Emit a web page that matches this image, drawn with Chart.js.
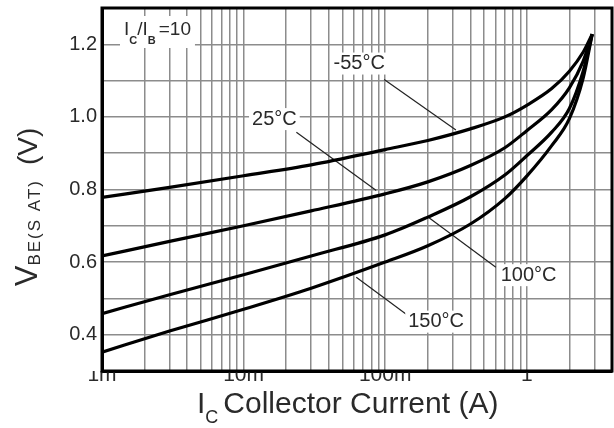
<!DOCTYPE html>
<html>
<head>
<meta charset="utf-8">
<script src="https://cdn.jsdelivr.net/npm/chart.js@4.4.0/dist/chart.umd.min.js"></script>
<style>
  html, body { margin: 0; padding: 0; background: #fff; }
  #wrap { width: 614px; height: 428px; }
</style>
</head>
<body>
<div id="wrap"><canvas id="vbeChart" width="614" height="428"></canvas></div>
<script>
// collector current (A) and VBE(SAT) (V)
const currents = [0.001, 0.003, 0.01, 0.03, 0.1, 0.2, 0.4, 0.7, 1, 1.5, 2, 2.5, 2.9];
const vbeM55 = [0.778, 0.806, 0.838, 0.868, 0.910, 0.935, 0.967, 1.000, 1.032, 1.078, 1.126, 1.178, 1.228];
const vbe25  = [0.617, 0.657, 0.700, 0.741, 0.788, 0.821, 0.866, 0.915, 0.962, 1.020, 1.080, 1.153, 1.228];
const vbe100 = [0.458, 0.510, 0.565, 0.617, 0.675, 0.724, 0.780, 0.840, 0.893, 0.958, 1.023, 1.125, 1.228];
const vbe150 = [0.352, 0.410, 0.470, 0.528, 0.600, 0.645, 0.705, 0.775, 0.837, 0.921, 0.995, 1.106, 1.228];

// x axis: decades and the minor lines in each decade
const xMajor = [0.001, 0.01, 0.1, 1];
const xMajorLabels = ['1m', '10m', '100m', '1'];
const xMinorSteps = [2, 3, 4, 5, 6, 7, 8, 9];

// temperature labels with their leader lines (in data units)
const tempLabels = ['-55°C', '25°C', '100°C', '150°C'];
const labelAt    = [[0.0656, 1.147], [0.0165, 0.994], [1.03, 0.564], [0.229, 0.436]];
const leaderFrom = [[0.0984, 1.103], [0.0236, 0.958], [0.204, 0.722], [0.0625, 0.558]];
const leaderTo   = [[0.316, 0.964], [0.0865, 0.797], [0.605, 0.586], [0.148, 0.45]];

const FONT = '"Liberation Sans", Arial, sans-serif';
const TXT = '#2a2a2a';

function toPoints(vals) {
    return currents.map((c, i) => ({ x: c, y: vals[i] }));
}

function curve(vals) {
    return {
        data: toPoints(vals),
        borderColor: '#000',
        borderWidth: 3.2,
        pointRadius: 0,
        cubicInterpolationMode: 'monotone',
        fill: false
    };
}

// text pieces with subscripts, drawn one after another
function drawPieces(ctx, pieces, x, y) {
    pieces.forEach(p => {
        ctx.font = p.font;
        ctx.letterSpacing = p.ls || '0px';
        ctx.fillText(p.t, x, y + (p.dy || 0));
        x += ctx.measureText(p.t).width + (p.gap || 0);
    });
    ctx.letterSpacing = '0px';
    return x;
}

function piecesWidth(ctx, pieces) {
    let w = 0;
    pieces.forEach(p => {
        ctx.font = p.font;
        ctx.letterSpacing = p.ls || '0px';
        w += ctx.measureText(p.t).width + (p.gap || 0);
    });
    ctx.letterSpacing = '0px';
    return w;
}

const extras = {
    id: 'extras',
    beforeDatasetsDraw(chart) {
        const ctx = chart.ctx;
        const xs = chart.scales.x, ys = chart.scales.y;
        const a = chart.chartArea;
        ctx.save();
        // leader lines
        ctx.strokeStyle = '#222';
        ctx.lineWidth = 1.2;
        leaderFrom.forEach((f, i) => {
            ctx.beginPath();
            ctx.moveTo(xs.getPixelForValue(f[0]), ys.getPixelForValue(f[1]));
            ctx.lineTo(xs.getPixelForValue(leaderTo[i][0]), ys.getPixelForValue(leaderTo[i][1]));
            ctx.stroke();
        });
        // temperature labels on white boxes
        ctx.font = '20px ' + FONT;
        ctx.textBaseline = 'middle';
        ctx.textAlign = 'center';
        tempLabels.forEach((t, i) => {
            const px = xs.getPixelForValue(labelAt[i][0]);
            const py = ys.getPixelForValue(labelAt[i][1]);
            const w = ctx.measureText(t).width;
            ctx.fillStyle = '#fff';
            ctx.fillRect(px - w / 2 - 3, py - 11, w + 6, 22);
            ctx.fillStyle = TXT;
            ctx.fillText(t, px, py);
        });
        // IC/IB = 10
        ctx.textAlign = 'left';
        ctx.textBaseline = 'alphabetic';
        const ratio = [
            { t: 'I', font: '19px ' + FONT },
            { t: 'C', font: 'bold 11px ' + FONT, dy: 9 },
            { t: '/I', font: '19px ' + FONT },
            { t: 'B', font: 'bold 11px ' + FONT, dy: 9, gap: 3 },
            { t: '=10', font: '19px ' + FONT }
        ];
        const rx = a.left + 22, ry = a.top + 27;
        ctx.fillStyle = '#fff';
        ctx.fillRect(rx - 4, ry - 19, piecesWidth(ctx, ratio) + 8, 32);
        ctx.fillStyle = TXT;
        drawPieces(ctx, ratio, rx, ry);
        ctx.restore();
    },
    afterDraw(chart) {
        const ctx = chart.ctx;
        const a = chart.chartArea;
        ctx.save();
        // frame
        ctx.strokeStyle = '#000';
        ctx.lineWidth = 3;
        ctx.strokeRect(a.left, a.top, a.right - a.left, a.bottom - a.top);

        ctx.fillStyle = TXT;
        ctx.textAlign = 'left';
        ctx.textBaseline = 'alphabetic';
        // x title
        const xt = [
            { t: 'I', font: '30px ' + FONT },
            { t: 'C', font: '18px ' + FONT, dy: 10, gap: 5 },
            { t: 'Collector Current (A)', font: '30px ' + FONT }
        ];
        drawPieces(ctx, xt, 197, 413);

        // y title, rotated
        const yt = [
            { t: 'V', font: '31px ' + FONT },
            { t: 'BE(S AT)', font: '17px ' + FONT, ls: '2px', dy: 3, gap: 14 },
            { t: '(V)', font: '28px ' + FONT }
        ];
        const yw = piecesWidth(ctx, yt);
        ctx.translate(37, 207);
        ctx.rotate(-Math.PI / 2);
        drawPieces(ctx, yt, -yw / 2, 0);
        ctx.restore();
    }
};

const config = {
    type: 'line',
    data: {
        datasets: [curve(vbeM55), curve(vbe25), curve(vbe100), curve(vbe150)]
    },
    options: {
        responsive: false,
        animation: false,
        layout: { padding: { top: 8, right: 2, left: 0, bottom: 0 } },
        plugins: { legend: { display: false }, tooltip: { enabled: false } },
        scales: {
            x: {
                type: 'logarithmic',
                min: 0.001,
                max: 4,
                afterBuildTicks: (s) => {
                    const t = [];
                    xMajor.forEach(m => {
                        t.push({ value: m });
                        xMinorSteps.forEach(k => { if (m * k <= 4) t.push({ value: m * k }); });
                    });
                    s.ticks = t;
                },
                afterFit: (s) => { s.height = 57; s.paddingLeft = 0; s.paddingRight = 0; },
                ticks: {
                    autoSkip: false,
                    maxRotation: 0,
                    padding: -8,
                    color: TXT,
                    font: { family: FONT, size: 21 },
                    callback: (v) => {
                        const i = xMajor.findIndex(m => Math.abs(v - m) / m < 1e-6);
                        return i >= 0 ? xMajorLabels[i] : '';
                    }
                },
                grid: { color: '#8c8c8c', lineWidth: 1.5, drawTicks: false },
                border: { color: '#000', width: 3 }
            },
            y: {
                min: 0.3,
                max: 1.3,
                afterFit: (s) => { s.width = 102; s.paddingTop = 0; s.paddingBottom = 0; },
                ticks: {
                    stepSize: 0.1,
                    padding: 5,
                    color: TXT,
                    font: { family: FONT, size: 20 },
                    callback: (v) => {
                        const k = Math.round(v * 10);
                        return (k % 2 === 0) ? (k / 10).toFixed(1) : '';
                    }
                },
                grid: { color: '#8c8c8c', lineWidth: 1.5, drawTicks: false },
                border: { color: '#000', width: 3 }
            }
        }
    },
    plugins: [extras]
};

let vbeChart = new Chart(document.getElementById('vbeChart'), config);
</script>
</body>
</html>
